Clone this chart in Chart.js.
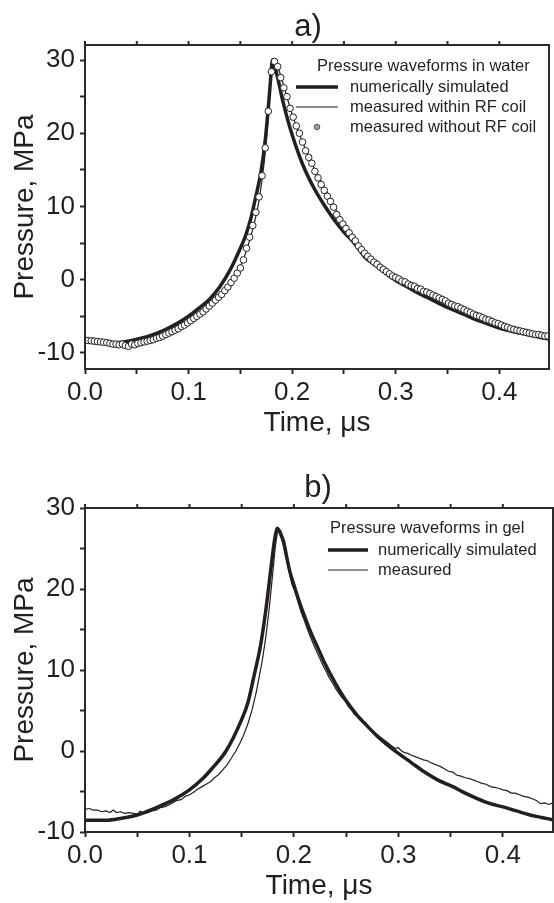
<!DOCTYPE html>
<html>
<head>
<meta charset="utf-8">
<script src="https://cdn.jsdelivr.net/npm/chart.js@4"></script>
<style>
  html, body { margin: 0; padding: 0; background: #fff; }
  #wrap { position: relative; width: 554px; height: 903px; }
  canvas { position: absolute; left: 0; }
  #chartA { top: 0; }
  #chartB { top: 452px; }
</style>
</head>
<body>
<div id="wrap">
  <canvas id="chartA" width="554" height="452"></canvas>
  <canvas id="chartB" width="554" height="451"></canvas>
</div>
<script>
// ---- data ----
const panelTitles = ["a)", "b)"];
const legendTitles = ["Pressure waveforms in water", "Pressure waveforms in gel"];

const xTickValues = [0, 0.05, 0.1, 0.15, 0.2, 0.25, 0.3, 0.35, 0.4];
const xTickLabels = ["0.0", "", "0.1", "", "0.2", "", "0.3", "", "0.4"];
const yTickValues = [-10, -5, 0, 5, 10, 15, 20, 25, 30];
const yTickLabels = ["-10", "", "0", "", "10", "", "20", "", "30"];

// panel a) - water
const simTimeA = [0, 0.015, 0.03, 0.045, 0.06, 0.075, 0.09, 0.1, 0.11, 0.12, 0.13, 0.14, 0.15, 0.155,
  0.16, 0.165, 0.17, 0.174, 0.177, 0.179, 0.181, 0.183, 0.186, 0.19, 0.195, 0.2, 0.21, 0.22, 0.23,
  0.24, 0.25, 0.26, 0.27, 0.28, 0.29, 0.3, 0.31, 0.32, 0.33, 0.34, 0.35, 0.36, 0.37, 0.38, 0.39,
  0.4, 0.41, 0.42, 0.43, 0.44, 0.448];
const simWater = [-8.4, -8.6, -8.6, -8.3, -7.8, -7.0, -5.9, -5.0, -3.9, -2.7, -1.0, 1.3, 4.3, 6.0,
  8.3, 11.4, 14.8, 19.0, 23.5, 27.0, 30.0, 29.2, 27.6, 25.0, 22.2, 19.8, 15.8, 12.8, 10.4,
  8.3, 6.5, 5.0, 3.1, 2.0, 0.9, -0.1, -0.9, -1.7, -2.4, -3.1, -3.8, -4.4, -5.0, -5.6, -6.1,
  -6.6, -7.0, -7.3, -7.6, -7.9, -8.1];

const coilTimeA = [0, 0.02, 0.04, 0.06, 0.08, 0.1, 0.12, 0.135, 0.145, 0.155, 0.162, 0.168, 0.173,
  0.177, 0.18, 0.183, 0.187, 0.192, 0.2, 0.21, 0.22, 0.235, 0.25, 0.27, 0.29, 0.31, 0.33, 0.36,
  0.39, 0.42, 0.448];
const withinCoil = [-8.4, -8.6, -8.9, -8.5, -7.5, -5.9, -3.7, -1.6, 0.3, 3.6, 6.9, 10.8, 16.0,
  22.2, 28.0, 29.7, 28.7, 26.4, 22.6, 18.8, 15.6, 11.6, 7.5, 3.7, 1.1, -0.5, -1.8, -3.8,
  -5.6, -7.0, -7.8];

const dotTimeA = [
  0.000, 0.003, 0.006, 0.009, 0.012, 0.015, 0.018, 0.021, 0.024, 0.027,
  0.030, 0.033, 0.036, 0.039, 0.042, 0.045, 0.048, 0.051, 0.054, 0.057,
  0.060, 0.063, 0.066, 0.069, 0.072, 0.075, 0.078, 0.081, 0.084, 0.087,
  0.090, 0.093, 0.096, 0.099, 0.102, 0.105, 0.108, 0.111, 0.114, 0.117,
  0.120, 0.123, 0.126, 0.129, 0.132, 0.135, 0.138, 0.141, 0.144, 0.147,
  0.150, 0.153, 0.156, 0.159, 0.162, 0.165, 0.168, 0.171, 0.174, 0.177,
  0.180, 0.183, 0.186, 0.189, 0.192, 0.195, 0.198, 0.201, 0.204, 0.207,
  0.210, 0.213, 0.216, 0.219, 0.222, 0.225, 0.228, 0.231, 0.234, 0.237,
  0.240, 0.243, 0.246, 0.249, 0.252, 0.255, 0.258, 0.261, 0.264, 0.267,
  0.270, 0.273, 0.276, 0.279, 0.282, 0.285, 0.288, 0.291, 0.294, 0.297,
  0.300, 0.303, 0.306, 0.309, 0.312, 0.315, 0.318, 0.321, 0.324, 0.327,
  0.330, 0.333, 0.336, 0.339, 0.342, 0.345, 0.348, 0.351, 0.354, 0.357,
  0.360, 0.363, 0.366, 0.369, 0.372, 0.375, 0.378, 0.381, 0.384, 0.387,
  0.390, 0.393, 0.396, 0.399, 0.402, 0.405, 0.408, 0.411, 0.414, 0.417,
  0.420, 0.423, 0.426, 0.429, 0.432, 0.435, 0.438, 0.441, 0.444, 0.447];
const withoutCoil = [
  -8.3, -8.3, -8.35, -8.4, -8.45, -8.5, -8.55, -8.6, -8.7, -8.8,
  -8.8, -8.9, -8.8, -9.0, -9.1, -8.8, -8.9, -8.7, -8.6, -8.5,
  -8.4, -8.3, -8.2, -8.0, -7.9, -7.7, -7.5, -7.3, -7.1, -6.9,
  -6.7, -6.4, -6.2, -5.9, -5.6, -5.3, -5.0, -4.7, -4.4, -4.0,
  -3.6, -3.2, -2.8, -2.4, -2.0, -1.5, -1.0, -0.4, 0.2, 0.9,
  1.6, 2.7, 4.3, 5.8, 7.4, 9.2, 11.3, 14.2, 18.0, 23.0,
  28.4, 29.8, 29.1, 27.6, 26.2, 25.0, 23.4, 22.2, 21.0, 20.0,
  18.8, 17.6, 16.7, 15.9, 14.8, 13.9, 13.0, 12.2, 11.4, 10.7,
  9.9, 8.9, 8.2, 7.6, 7.0, 6.4, 5.8, 5.3, 4.6, 4.1,
  3.6, 3.2, 2.8, 2.4, 2.1, 1.7, 1.4, 1.1, 0.8, 0.5,
  0.3, 0.1, -0.2, -0.3, -0.6, -0.8, -0.9, -1.2, -1.3, -1.6,
  -1.7, -1.9, -2.1, -2.3, -2.5, -2.7, -2.9, -3.2, -3.4, -3.6,
  -3.7, -3.9, -4.1, -4.3, -4.5, -4.7, -4.9, -5.0, -5.2, -5.4,
  -5.5, -5.7, -5.9, -6.0, -6.2, -6.4, -6.5, -6.7, -6.8, -6.9,
  -7.0, -7.1, -7.2, -7.3, -7.4, -7.5, -7.5, -7.6, -7.7, -7.7];

// panel b) - gel
const simTimeB = [0, 0.02, 0.035, 0.05, 0.07, 0.085, 0.1, 0.112, 0.122, 0.135, 0.149, 0.156, 0.162,
  0.168, 0.173, 0.177, 0.18, 0.182, 0.184, 0.186, 0.188, 0.19, 0.193, 0.196, 0.2, 0.206, 0.212,
  0.217, 0.223, 0.23, 0.24, 0.25, 0.26, 0.27, 0.28, 0.29, 0.3, 0.312, 0.325, 0.338, 0.352,
  0.364, 0.376, 0.388, 0.4, 0.413, 0.426, 0.437, 0.448];
const simGel = [-8.55, -8.55, -8.3, -7.9, -6.9, -6.0, -4.8, -3.5, -2.1, 0.0, 3.6, 6.0, 9.4,
  13.0, 17.3, 21.5, 24.7, 26.5, 27.5, 27.2, 26.6, 25.9, 24.0, 22.2, 20.5, 18.1, 16.0,
  14.4, 12.7, 10.7, 8.3, 6.2, 4.5, 3.1, 1.8, 0.7, -0.3, -1.4, -2.6, -3.6, -4.4,
  -5.2, -5.9, -6.5, -6.9, -7.4, -7.9, -8.2, -8.5];

const measTimeB = [0, 0.004, 0.008, 0.012, 0.016, 0.02, 0.024, 0.027, 0.03, 0.034, 0.038, 0.042,
  0.046, 0.05, 0.053, 0.056, 0.06, 0.064, 0.068, 0.072, 0.076, 0.08, 0.084, 0.088, 0.092,
  0.096, 0.1, 0.104, 0.108, 0.112, 0.116, 0.12, 0.124, 0.128, 0.132, 0.136, 0.14, 0.144,
  0.148, 0.152, 0.156, 0.16, 0.164, 0.167, 0.17, 0.173, 0.176, 0.179, 0.182, 0.1845, 0.187,
  0.19, 0.193, 0.196, 0.198, 0.201, 0.204, 0.207, 0.21, 0.213, 0.216, 0.219, 0.222, 0.225,
  0.228, 0.231, 0.234, 0.237, 0.24, 0.243, 0.246, 0.249, 0.252, 0.255, 0.258, 0.261, 0.264,
  0.267, 0.27, 0.273, 0.276, 0.279, 0.282, 0.285, 0.288, 0.291, 0.294, 0.297, 0.3, 0.303,
  0.306, 0.309, 0.312, 0.316, 0.32, 0.324, 0.328, 0.332, 0.336, 0.34, 0.344, 0.348, 0.352,
  0.356, 0.36, 0.364, 0.368, 0.372, 0.376, 0.38, 0.384, 0.388, 0.392, 0.396, 0.4, 0.404,
  0.408, 0.412, 0.416, 0.42, 0.424, 0.428, 0.432, 0.436, 0.44, 0.444, 0.448];
const measGel = [-7.2, -7.1, -7.3, -7.3, -7.5, -7.4, -7.6, -7.3, -7.6, -7.5, -7.7, -7.6,
  -7.7, -7.8, -7.4, -7.7, -7.6, -7.4, -7.3, -7.0, -6.9, -6.7, -6.4, -6.1, -6.0,
  -5.6, -5.4, -5.1, -4.7, -4.4, -4.1, -3.8, -3.3, -2.9, -2.3, -1.7, -0.9, -0.1,
  0.9, 2.0, 3.4, 5.1, 7.3, 9.3, 11.4, 14.0, 17.2, 21.0, 25.0, 27.4, 26.6,
  25.4, 23.6, 21.8, 20.6, 19.7, 18.4, 17.1, 16.1, 15.0, 14.0, 13.1, 12.2, 11.4,
  10.5, 9.8, 9.0, 8.4, 7.7, 7.1, 6.6, 6.2, 5.5, 5.1, 4.5, 4.4, 3.9,
  3.4, 3.2, 2.8, 2.4, 2.1, 1.8, 1.5, 1.2, 0.9, 0.6, 0.3, 0.4, 0.0,
  -0.2, -0.3, -0.5, -0.7, -0.9, -1.1, -1.2, -1.5, -1.7, -1.9, -2.2, -2.5, -2.6,
  -3.0, -3.1, -3.3, -3.4, -3.6, -3.8, -4.0, -4.1, -4.4, -4.5, -4.6, -4.8, -4.9,
  -5.2, -5.2, -5.4, -5.6, -5.7, -5.9, -6.1, -6.5, -6.4, -6.6, -6.4];

// ---- styling ----
const ink = "#231f20";
const fontFamily = "'Liberation Sans', Arial, Helvetica, sans-serif";
Chart.defaults.font.family = fontFamily;
Chart.defaults.color = ink;

function toPoints(ts, vs) {
  return ts.map((t, i) => ({ x: t, y: vs[i] }));
}

// frame round the plot area, with small ticks on the top edge
const framePlugin = {
  id: "frame",
  afterDraw(chart) {
    const { ctx, chartArea: a, scales } = chart;
    ctx.save();
    ctx.strokeStyle = "#2a2a2a";
    ctx.lineWidth = 2;
    ctx.strokeRect(a.left, a.top, a.right - a.left, a.bottom - a.top);
    scales.x.ticks.forEach((t) => {
      const px = scales.x.getPixelForValue(t.value);
      ctx.beginPath();
      ctx.moveTo(px, a.top);
      ctx.lineTo(px, a.top - 4);
      ctx.stroke();
    });
    ctx.restore();
  },
};

// panel letter above the plot
const panelTitlePlugin = {
  id: "panelTitle",
  afterDraw(chart, args, opts) {
    const { ctx } = chart;
    ctx.save();
    ctx.fillStyle = ink;
    ctx.font = "31px " + fontFamily;
    ctx.textAlign = "center";
    ctx.textBaseline = "alphabetic";
    ctx.fillText(opts.text, opts.x, opts.y);
    ctx.restore();
  },
};

// legend with a heading, drawn inside the plot area
const boxLegendPlugin = {
  id: "boxLegend",
  afterDraw(chart, args, opts) {
    const { ctx } = chart;
    ctx.save();
    ctx.fillStyle = ink;
    ctx.font = "16.5px " + fontFamily;
    ctx.textBaseline = "middle";
    ctx.textAlign = "left";
    ctx.fillText(opts.title, opts.titleX, opts.titleY);
    chart.data.datasets.forEach((ds, i) => {
      const y = opts.firstY + i * opts.rowGap;
      if (ds.showLine === false) {
        ctx.beginPath();
        ctx.arc((opts.lineX0 + opts.lineX1) / 2, y, 2.8, 0, Math.PI * 2);
        ctx.fillStyle = "#a0a0a0";
        ctx.fill();
        ctx.lineWidth = 1;
        ctx.strokeStyle = "#555";
        ctx.stroke();
      } else {
        ctx.beginPath();
        ctx.moveTo(opts.lineX0, y);
        ctx.lineTo(opts.lineX1, y);
        ctx.lineWidth = ds.borderWidth;
        ctx.strokeStyle = ds.borderColor;
        ctx.stroke();
      }
      ctx.fillStyle = ink;
      ctx.fillText(ds.label, opts.textX, y);
    });
    ctx.restore();
  },
};

function makeScales(yMin, yMax) {
  return {
    x: {
      type: "linear",
      min: 0,
      max: 0.448,
      afterBuildTicks: (s) => { s.ticks = xTickValues.map((v) => ({ value: v })); },
      afterFit: (s) => { s.height = 71; },
      grid: { drawOnChartArea: false, drawTicks: true, tickLength: 5, tickWidth: 2, tickColor: "#2a2a2a" },
      border: { display: false },
      ticks: {
        autoSkip: false, maxRotation: 0, padding: 3, color: ink,
        font: { size: 26 },
        callback: (v, i) => xTickLabels[i],
      },
      title: { display: true, text: "Time, \u03bcs", color: ink, font: { size: 28 }, padding: { top: 0, bottom: 0 } },
    },
    y: {
      type: "linear",
      min: yMin,
      max: yMax,
      afterBuildTicks: (s) => { s.ticks = yTickValues.map((v) => ({ value: v })); },
      afterFit: (s) => { s.width = 85; },
      grid: { drawOnChartArea: false, drawTicks: true, tickLength: 5, tickWidth: 2, tickColor: "#2a2a2a" },
      border: { display: false },
      ticks: {
        autoSkip: false, padding: 5, color: ink,
        font: { size: 26 },
        callback: (v, i) => yTickLabels[i],
      },
      title: { display: true, text: "Pressure, MPa", color: ink, font: { size: 28 }, padding: { top: 8, bottom: 0 } },
    },
  };
}

const baseOptions = {
  responsive: false,
  animation: false,
  events: [],
  plugins: { legend: { display: false }, tooltip: { enabled: false } },
};

// ---- panel a ----
new Chart(document.getElementById("chartA"), {
  type: "line",
  data: {
    datasets: [
      {
        label: "numerically simulated",
        data: toPoints(simTimeA, simWater),
        borderColor: ink, borderWidth: 3.5, pointRadius: 0,
        cubicInterpolationMode: "monotone", order: 2,
      },
      {
        label: "measured within RF coil",
        data: toPoints(coilTimeA, withinCoil),
        borderColor: ink, borderWidth: 1.2, pointRadius: 0,
        cubicInterpolationMode: "monotone", order: 3,
      },
      {
        label: "measured without RF coil",
        data: toPoints(dotTimeA, withoutCoil),
        showLine: false, pointRadius: 3.3, pointBorderWidth: 1,
        pointBackgroundColor: "#ffffff", pointBorderColor: ink, order: 1,
      },
    ],
  },
  options: {
    ...baseOptions,
    layout: { padding: { top: 45, right: 1, bottom: 12, left: 0 } },
    scales: makeScales(-12.2, 32.05),
    plugins: {
      ...baseOptions.plugins,
      panelTitle: { text: panelTitles[0], x: 308, y: 35.5 },
      boxLegend: { title: legendTitles[0], titleX: 317, titleY: 66, firstY: 87, rowGap: 20,
        lineX0: 296, lineX1: 338, textX: 350 },
    },
  },
  plugins: [framePlugin, panelTitlePlugin, boxLegendPlugin],
});

// ---- panel b ----
new Chart(document.getElementById("chartB"), {
  type: "line",
  data: {
    datasets: [
      {
        label: "numerically simulated",
        data: toPoints(simTimeB, simGel),
        borderColor: ink, borderWidth: 3.5, pointRadius: 0,
        cubicInterpolationMode: "monotone", order: 2,
      },
      {
        label: "measured",
        data: toPoints(measTimeB, measGel),
        borderColor: ink, borderWidth: 1.2, pointRadius: 0, tension: 0, order: 1,
      },
    ],
  },
  options: {
    ...baseOptions,
    layout: { padding: { top: 56, right: 1, bottom: 0, left: 0 } },
    scales: makeScales(-10, 30),
    plugins: {
      ...baseOptions.plugins,
      panelTitle: { text: panelTitles[1], x: 318, y: 44.5 },
      boxLegend: { title: legendTitles[1], titleX: 330, titleY: 76, firstY: 98, rowGap: 20,
        lineX0: 328, lineX1: 368, textX: 378 },
    },
  },
  plugins: [framePlugin, panelTitlePlugin, boxLegendPlugin],
});
</script>
</body>
</html>
